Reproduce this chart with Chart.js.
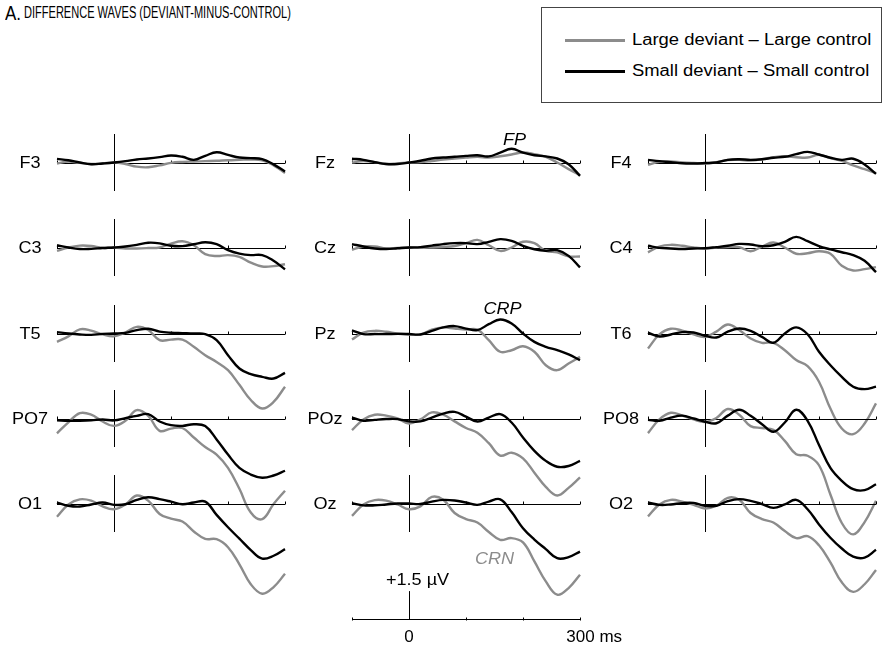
<!DOCTYPE html>
<html>
<head>
<meta charset="utf-8">
<script src="https://cdn.jsdelivr.net/npm/chart.js@4.4.1/dist/chart.umd.min.js"></script>
<style>
  html, body { margin: 0; padding: 0; background: #fff; }
  #stage { position: relative; width: 888px; height: 651px; overflow: hidden; }
  #stage canvas { position: absolute; }
  .ttl { position: absolute; top: 0px; font-family: "Liberation Sans", Arial, sans-serif; color: #000; white-space: nowrap; line-height: 26px; transform-origin: left center; }
  #ttlA { left: 5px; font-size: 20px; transform: scaleX(0.85); }
  #ttlRest { left: 24px; font-size: 16px; transform: scaleX(0.69); }
  #legend { position: absolute; left: 541px; top: 7px; width: 341px; height: 96px; box-sizing: border-box; border: 1px solid #444; }
  #legend .swatch { position: absolute; left: 23px; width: 60px; height: 3px; }
  #legend .txt { position: absolute; left: 90px; font: 16px/20px "Liberation Sans", Arial, sans-serif; color: #000; white-space: nowrap; transform: scaleX(1.15); transform-origin: left center; }
</style>
</head>
<body>
<div id="stage">
  <div class="ttl" id="ttlA">A.</div>
  <div class="ttl" id="ttlRest">DIFFERENCE WAVES (DEVIANT-MINUS-CONTROL)</div>
  <div id="legend">
    <div class="swatch" style="top:31px;background:#8c8c8c"></div>
    <div class="txt" style="top:22px">Large deviant – Large control</div>
    <div class="swatch" style="top:62px;background:#000"></div>
    <div class="txt" style="top:53px">Small deviant – Small control</div>
  </div>
</div>
<script>
// time points (ms) shared by every wave
const times = [-100, -80, -60, -40, -20, 0, 20, 40, 60, 80, 100, 120, 140, 160, 180, 200, 220, 240, 260, 280, 300];

// µV, large deviant - large control (grey) and small deviant - small control (black)
const largeF3 = [-0.05, 0.05, -0.02, -0.08, -0.05, 0, -0.08, -0.22, -0.25, -0.15, -0.02, 0.03, 0.05, 0.07, 0.09, 0.12, 0.14, 0.16, 0.12, -0.15, -0.55];
const smallF3 = [0.19, 0.12, 0, -0.09, -0.05, 0, 0.07, 0.16, 0.21, 0.28, 0.37, 0.30, 0.14, 0.35, 0.54, 0.40, 0.26, 0.23, 0.18, -0.10, -0.47];
const largeFz = [0.0, 0.08, 0.02, -0.08, -0.05, 0, 0.02, 0.08, 0.15, 0.21, 0.26, 0.3, 0.26, 0.33, 0.42, 0.53, 0.44, 0.3, 0.0, -0.35, -0.67];
const smallFz = [0.2, 0.14, 0.02, -0.08, -0.08, 0, 0.09, 0.21, 0.26, 0.3, 0.35, 0.38, 0.32, 0.52, 0.72, 0.52, 0.38, 0.32, 0.21, -0.09, -0.7];
const largeF4 = [-0.12, 0.03, 0.05, 0.0, -0.03, -0.05, 0.02, 0.13, 0.14, 0.1, 0.17, 0.28, 0.33, 0.28, 0.26, 0.4, 0.23, 0.08, -0.15, -0.35, -0.56];
const smallF4 = [0.14, 0.07, 0.02, -0.04, -0.05, -0.03, 0.0, 0.14, 0.17, 0.14, 0.17, 0.25, 0.3, 0.44, 0.56, 0.42, 0.25, 0.14, 0.2, -0.1, -0.6];

const largeC3 = [-0.18, 0.0, 0.1, 0.08, -0.02, 0, -0.05, -0.05, -0.03, 0.0, 0.2, 0.33, 0.12, -0.35, -0.45, -0.4, -0.49, -0.8, -1.0, -0.98, -0.88];
const smallC3 = [0.12, 0.0, -0.08, -0.07, -0.03, 0, 0.05, 0.14, 0.25, 0.22, 0.09, 0.07, 0.17, 0.28, 0.18, -0.14, -0.32, -0.4, -0.4, -0.7, -1.15];
const largeCz = [-0.12, 0.05, 0.05, -0.05, -0.02, 0, -0.02, 0.0, 0.03, 0.08, 0.23, 0.4, 0.12, -0.18, 0.0, 0.3, 0.23, -0.18, -0.26, -0.47, -0.47];
const smallCz = [0.18, 0.05, -0.05, -0.08, -0.04, 0, 0.02, 0.1, 0.18, 0.23, 0.23, 0.18, 0.3, 0.44, 0.35, 0.09, -0.09, -0.17, -0.14, -0.44, -1.05];
const largeC4 = [-0.26, 0.05, 0.14, 0.09, 0.0, -0.05, 0.0, 0.03, 0.02, -0.2, 0.05, 0.26, 0.0, -0.33, -0.3, -0.2, -0.33, -0.96, -1.21, -1.14, -1.03];
const smallC4 = [0.09, -0.02, -0.05, -0.08, -0.05, -0.04, 0.02, 0.09, 0.19, 0.16, 0.07, 0.12, 0.3, 0.56, 0.33, 0.07, -0.1, -0.25, -0.4, -0.7, -1.3];

const largeT5 = [-0.44, -0.15, 0.22, 0.15, -0.05, -0.15, 0.05, 0.35, 0.18, -0.35, -0.32, -0.32, -0.7, -1.14, -1.5, -1.93, -2.7, -3.5, -3.95, -3.6, -2.8];
const smallT5 = [0.07, 0.0, -0.05, -0.07, -0.02, 0, 0.03, 0.18, 0.25, 0.1, 0.04, 0.02, 0.0, -0.03, -0.35, -1.14, -1.84, -2.14, -2.28, -2.37, -2.07];
const largePz = [-0.32, 0.05, 0.14, 0.09, 0.0, -0.05, -0.05, 0.2, 0.32, 0.26, 0.21, 0.2, -0.35, -0.96, -0.88, -0.67, -0.96, -1.67, -1.93, -1.58, -1.23];
const smallPz = [0.17, -0.03, -0.03, -0.03, -0.02, -0.03, -0.05, 0.14, 0.32, 0.39, 0.26, 0.18, 0.49, 0.74, 0.53, 0.0, -0.44, -0.7, -0.88, -1.1, -1.4];
const largeT6 = [-0.79, -0.05, 0.25, 0.15, -0.05, -0.18, 0.1, 0.47, 0.18, -0.26, -0.49, -0.49, -0.88, -1.4, -1.72, -2.54, -3.95, -5.0, -5.3, -4.74, -3.68];
const smallT6 = [0.04, -0.16, -0.05, 0.07, 0.05, -0.12, -0.21, 0.1, 0.26, 0.14, -0.18, -0.49, 0.0, 0.32, -0.04, -0.96, -1.67, -2.28, -2.8, -2.93, -2.8];

const largePO7 = [-0.78, -0.2, 0.28, 0.2, -0.16, -0.39, -0.12, 0.44, 0.14, -0.65, -0.53, -0.5, -1.0, -1.5, -1.9, -2.6, -3.7, -4.95, -5.3, -4.5, -3.8];
const smallPO7 = [-0.1, -0.12, -0.12, -0.1, -0.05, -0.1, 0.02, 0.14, 0.23, -0.16, -0.35, -0.39, -0.3, -0.4, -1.1, -1.9, -2.6, -2.95, -3.12, -3.0, -2.75];
const largePOz = [-0.61, -0.05, 0.2, 0.15, 0.0, -0.26, -0.05, 0.32, 0.2, -0.15, -0.5, -0.75, -1.3, -1.95, -1.8, -2.1, -2.85, -3.6, -4.05, -3.65, -3.1];
const smallPOz = [0.05, -0.12, -0.07, -0.03, -0.03, -0.15, -0.15, 0.05, 0.26, 0.35, 0.1, -0.16, 0.05, 0.23, -0.21, -1.0, -1.7, -2.23, -2.54, -2.5, -2.23];
const largePO8 = [-0.77, -0.05, 0.3, 0.15, -0.05, -0.18, 0.03, 0.5, 0.2, -0.4, -0.5, -0.6, -1.18, -1.88, -1.96, -2.46, -4.0, -5.5, -6.1, -5.45, -4.33];
const smallPO8 = [-0.07, -0.12, 0.05, 0.15, 0.0, -0.17, -0.25, 0.15, 0.46, 0.14, -0.3, -0.7, -0.21, 0.46, -0.12, -1.4, -2.6, -3.28, -3.72, -3.77, -3.46];

const largeO1 = [-0.7, -0.05, 0.22, 0.15, -0.15, -0.3, -0.05, 0.42, 0.15, -0.55, -0.8, -0.95, -1.47, -1.86, -1.88, -2.3, -3.2, -4.25, -4.75, -4.4, -3.7];
const smallO1 = [0.05, -0.12, -0.16, -0.05, 0.05, -0.07, -0.04, 0.19, 0.33, 0.23, 0.1, -0.04, 0.05, 0.1, -0.6, -1.25, -1.85, -2.45, -2.9, -2.75, -2.4];
const largeOz = [-0.65, -0.05, 0.18, 0.15, -0.05, -0.3, -0.15, 0.35, 0.2, -0.5, -0.82, -1.0, -1.5, -1.91, -1.82, -2.05, -3.05, -4.1, -4.8, -4.45, -3.75];
const smallOz = [0.02, -0.1, -0.1, -0.05, 0.0, 0.0, -0.03, 0.1, 0.19, 0.16, 0.05, -0.07, 0.1, 0.22, -0.45, -1.3, -1.9, -2.4, -2.88, -2.82, -2.53];
const largeO2 = [-0.68, -0.05, 0.19, 0.1, -0.07, -0.26, -0.12, 0.3, 0.2, -0.5, -0.82, -1.0, -1.45, -1.82, -1.72, -2.2, -3.1, -4.15, -4.65, -4.25, -3.5];
const smallO2 = [0.05, -0.07, -0.05, 0.02, 0.03, -0.12, -0.12, 0.12, 0.23, 0.14, -0.03, -0.23, -0.05, 0.19, -0.3, -1.1, -1.8, -2.37, -2.8, -2.85, -2.44];

// electrode grid, row by row
const electrodes = [
  ['F3', 'Fz', 'F4'],
  ['C3', 'Cz', 'C4'],
  ['T5', 'Pz', 'T6'],
  ['PO7', 'POz', 'PO8'],
  ['O1', 'Oz', 'O2']
];
const waves = {
  F3: [largeF3, smallF3], Fz: [largeFz, smallFz], F4: [largeF4, smallF4],
  C3: [largeC3, smallC3], Cz: [largeCz, smallCz], C4: [largeC4, smallC4],
  T5: [largeT5, smallT5], Pz: [largePz, smallPz], T6: [largeT6, smallT6],
  PO7: [largePO7, smallPO7], POz: [largePOz, smallPOz], PO8: [largePO8, smallPO8],
  O1: [largeO1, smallO1], Oz: [largeOz, smallOz], O2: [largeO2, smallO2]
};
const seriesNames = ['Large deviant – Large control', 'Small deviant – Small control'];

// component labels: time (ms) and voltage (µV) of the text baseline
const GRAY = '#8c8c8c', BLACK = '#000000';
const notes = {
  Fz: [{ text: 'FP', t: 185, v: 0.92, color: BLACK }],
  Pz: [{ text: 'CRP', t: 164, v: 1.04, color: BLACK }],
  Oz: [{ text: 'CRN', t: 150, v: -3.18, color: GRAY }]
};
const scaleTicks = [-100, 100, 200, 300];

// layout
const FONT = '"Liberation Sans", Arial, Helvetica, sans-serif';
const STRETCH = 1.13;              // the original lettering is slightly wide
const PX_PER_MS = 0.57, PX_PER_UV = 19;
const colX = [57, 352.3, 648.3];   // page x of -100 ms
const rowY = [162.5, 247.5, 333, 418, 503.5]; // page y of 0 µV
const PAD_L = 56, PAD_R = 10, PANEL_H = 180, TOP_UV = 2.5;

const stage = document.getElementById('stage');

function drawText(ctx, str, x, y, font, color) {
  ctx.save();
  ctx.font = font;
  ctx.fillStyle = color;
  ctx.textAlign = 'center';
  ctx.textBaseline = 'alphabetic';
  ctx.translate(x, y);
  ctx.scale(STRETCH, 1);
  ctx.fillText(str, 0, 0);
  ctx.restore();
}

// zero line with small ticks, +-1.5 µV bar at stimulus onset, electrode name, notes
const erpFrame = {
  id: 'erpFrame',
  beforeDatasetsDraw(chart, args, opts) {
    const ctx = chart.ctx;
    const xs = chart.scales.x, ys = chart.scales.y;
    const snap = (p) => Math.round(p) + 0.5;
    const y0 = snap(ys.getPixelForValue(0));
    ctx.save();
    ctx.strokeStyle = '#000';
    ctx.lineWidth = 1;
    ctx.beginPath();
    if (opts.baseline) {
      ctx.moveTo(xs.getPixelForValue(xs.min), y0);
      ctx.lineTo(xs.getPixelForValue(xs.max), y0);
    }
    opts.ticks.forEach((t) => {
      const px = snap(xs.getPixelForValue(t));
      ctx.moveTo(px, y0);
      ctx.lineTo(px, y0 - 3);
    });
    const x0 = snap(xs.getPixelForValue(0));
    ctx.moveTo(x0, ys.getPixelForValue(opts.bar[0]));
    ctx.lineTo(x0, ys.getPixelForValue(opts.bar[1]));
    ctx.stroke();
    ctx.restore();

    if (opts.label) {
      drawText(ctx, opts.label, xs.getPixelForValue(xs.min) - 27, ys.getPixelForValue(0) + 5.7, '16px ' + FONT, '#000');
    }
    (opts.notes || []).forEach((n) => {
      drawText(ctx, n.text, xs.getPixelForValue(n.t), ys.getPixelForValue(n.v), n.italic === false ? '16px ' + FONT : 'italic 16px ' + FONT, n.color);
    });
  }
};

function makeCanvas(w, h) {
  const c = document.createElement('canvas');
  c.width = w;
  c.height = h;
  c.style.width = w + 'px';
  c.style.height = h + 'px';
  stage.appendChild(c);
  return c;
}

function place(chart, canvas, px, py) {
  const xs = chart.scales.x, ys = chart.scales.y;
  canvas.style.left = Math.round(px - xs.getPixelForValue(xs.min)) + 'px';
  canvas.style.top = Math.round(py - ys.getPixelForValue(0)) + 'px';
}

const tMin = times[0], tMax = times[times.length - 1];
const areaW = (tMax - tMin) * PX_PER_MS;

electrodes.forEach((row, r) => {
  row.forEach((name, c) => {
    const [large, small] = waves[name];
    const canvas = makeCanvas(PAD_L + areaW + PAD_R, PANEL_H);
    const chart = new Chart(canvas, {
      type: 'line',
      data: {
        datasets: [
          // first dataset is painted last, so black sits on top
          { label: seriesNames[1], data: times.map((t, i) => ({ x: t, y: small[i] })), borderColor: BLACK, borderWidth: 2.4, pointRadius: 0, tension: 0.4, fill: false, clip: false },
          { label: seriesNames[0], data: times.map((t, i) => ({ x: t, y: large[i] })), borderColor: GRAY, borderWidth: 2.4, pointRadius: 0, tension: 0.4, fill: false, clip: false }
        ]
      },
      options: {
        responsive: false,
        animation: false,
        devicePixelRatio: 1,
        events: [],
        layout: { padding: { left: PAD_L, right: PAD_R, top: 0, bottom: 0 } },
        scales: {
          x: { type: 'linear', min: tMin, max: tMax, display: false },
          y: { type: 'linear', min: TOP_UV - PANEL_H / PX_PER_UV, max: TOP_UV, display: false }
        },
        plugins: {
          legend: { display: false },
          tooltip: { enabled: false },
          erpFrame: { baseline: true, ticks: scaleTicks, bar: [-1.5, 1.5], label: name, notes: notes[name] || [] }
        }
      },
      plugins: [erpFrame]
    });
    place(chart, canvas, colX[c], rowY[r]);
  });
});

// time / voltage calibration under the middle column
const calCanvas = makeCanvas(20 + areaW + 60, 110);
const cal = new Chart(calCanvas, {
  type: 'line',
  data: { datasets: [] },
  options: {
    responsive: false,
    animation: false,
    devicePixelRatio: 1,
    events: [],
    layout: { padding: { left: 20, right: 60, top: 25, bottom: 0 } },
    scales: {
      x: {
        type: 'linear', min: tMin, max: tMax, position: 'bottom',
        grid: { display: false, drawTicks: false },
        border: { display: true, color: '#000', width: 1 },
        ticks: {
          stepSize: 100, padding: 8, color: '#000', autoSkip: false, maxRotation: 0,
          font: { family: FONT, size: 17 },
          callback: (v) => (v === 0 ? '0' : v === 300 ? '      300 ms' : '')
        }
      },
      y: { type: 'linear', min: 0, max: 2.5, display: false }
    },
    plugins: {
      legend: { display: false },
      tooltip: { enabled: false },
      erpFrame: { baseline: false, ticks: scaleTicks, bar: [0, 1.5], notes: [{ text: '+1.5 µV', t: 15, v: 1.8, color: BLACK, italic: false }] }
    }
  },
  plugins: [erpFrame]
});
cal.options.scales.y.max = (cal.chartArea.bottom - cal.chartArea.top) / PX_PER_UV;
cal.update();
place(cal, calCanvas, colX[1], 619.3);
</script>
</body>
</html>
